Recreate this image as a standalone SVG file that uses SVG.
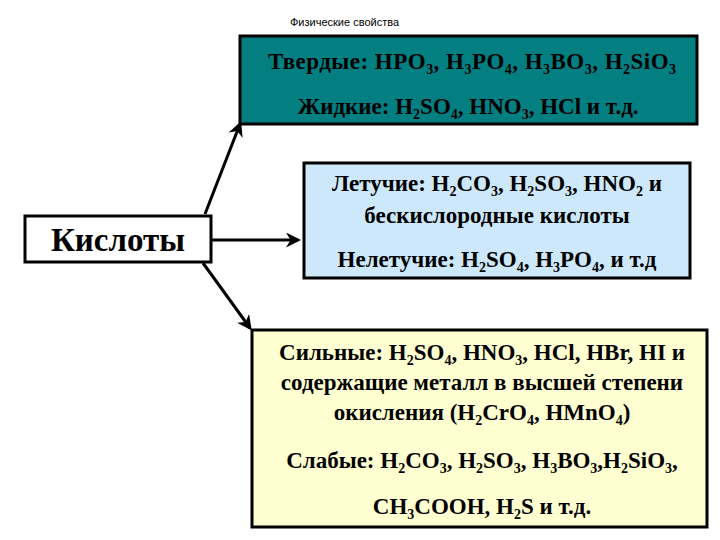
<svg xmlns="http://www.w3.org/2000/svg" width="720" height="540" viewBox="0 0 720 540">
<style>
.box{stroke:#000;stroke-width:3}
.t{font-family:"Liberation Serif",serif;font-weight:bold;font-size:23px;fill:#000;text-anchor:middle}
.s{font-size:14px}
.c{stroke:#000;stroke-width:3;fill:none;marker-end:url(#a)}
</style>
<defs><marker id="a" viewBox="0 0 10 10" refX="8" refY="5" markerWidth="5" markerHeight="5" orient="auto" markerUnits="strokeWidth"><path d="M0,0 L10,5 L0,10 L3,5 Z" fill="#000"/></marker></defs>
<rect width="720" height="540" fill="#fff"/>
<text x="290" y="26" font-family="Liberation Sans,sans-serif" font-size="11" fill="#000">Физические свойства</text>
<g id="connectors">
<path class="c" d="M205,214 L240,124"/>
<path class="c" d="M212,240 L298,240"/>
<path class="c" d="M203,263 L250,328"/>
</g>
<g id="acids">
<rect class="box" x="25" y="216" width="186" height="46" fill="#fff"/>
<text class="t" x="118" y="251" style="font-size:33px">Кислоты</text>
</g>
<g id="phys">
<rect class="box" x="240" y="36" width="457" height="88" fill="#037f82"/>
<text class="t" x="472" y="69" textLength="408">Твердые: HPO<tspan class="s" dy="5">3</tspan><tspan dy="-5">, H</tspan><tspan class="s" dy="5">3</tspan><tspan dy="-5">PO</tspan><tspan class="s" dy="5">4</tspan><tspan dy="-5">, H</tspan><tspan class="s" dy="5">3</tspan><tspan dy="-5">BO</tspan><tspan class="s" dy="5">3</tspan><tspan dy="-5">, H</tspan><tspan class="s" dy="5">2</tspan><tspan dy="-5">SiO</tspan><tspan class="s" dy="5">3</tspan></text>
<text class="t" x="468" y="114">Жидкие: H<tspan class="s" dy="5">2</tspan><tspan dy="-5">SO</tspan><tspan class="s" dy="5">4</tspan><tspan dy="-5">, HNO</tspan><tspan class="s" dy="5">3</tspan><tspan dy="-5">, HCl и т.д.</tspan></text>
</g>
<g id="volatile">
<rect class="box" x="304" y="163" width="386" height="115" fill="#cce8fa"/>
<text class="t" x="497" y="191">Летучие: H<tspan class="s" dy="5">2</tspan><tspan dy="-5">CO</tspan><tspan class="s" dy="5">3</tspan><tspan dy="-5">, H</tspan><tspan class="s" dy="5">2</tspan><tspan dy="-5">SO</tspan><tspan class="s" dy="5">3</tspan><tspan dy="-5">, HNO</tspan><tspan class="s" dy="5">2</tspan><tspan dy="-5"> и</tspan></text>
<text class="t" x="497" y="223">бескислородные кислоты</text>
<text class="t" x="497" y="267">Нелетучие: H<tspan class="s" dy="5">2</tspan><tspan dy="-5">SO</tspan><tspan class="s" dy="5">4</tspan><tspan dy="-5">, H</tspan><tspan class="s" dy="5">3</tspan><tspan dy="-5">PO</tspan><tspan class="s" dy="5">4</tspan><tspan dy="-5">,  и т.д</tspan></text>
</g>
<g id="strength">
<rect class="box" x="252" y="330" width="455" height="197" fill="#ffffd2"/>
<text class="t" x="482" y="360">Сильные: H<tspan class="s" dy="5">2</tspan><tspan dy="-5">SO</tspan><tspan class="s" dy="5">4</tspan><tspan dy="-5">, HNO</tspan><tspan class="s" dy="5">3</tspan><tspan dy="-5">, HCl, HBr, HI и</tspan></text>
<text class="t" x="482" y="390">содержащие металл в высшей степени</text>
<text class="t" x="482" y="420">окисления (H<tspan class="s" dy="5">2</tspan><tspan dy="-5">CrO</tspan><tspan class="s" dy="5">4</tspan><tspan dy="-5">, HMnO</tspan><tspan class="s" dy="5">4</tspan><tspan dy="-5">)</tspan></text>
<text class="t" x="482" y="468">Слабые: H<tspan class="s" dy="5">2</tspan><tspan dy="-5">CO</tspan><tspan class="s" dy="5">3</tspan><tspan dy="-5">, H</tspan><tspan class="s" dy="5">2</tspan><tspan dy="-5">SO</tspan><tspan class="s" dy="5">3</tspan><tspan dy="-5">, H</tspan><tspan class="s" dy="5">3</tspan><tspan dy="-5">BO</tspan><tspan class="s" dy="5">3</tspan><tspan dy="-5">,H</tspan><tspan class="s" dy="5">2</tspan><tspan dy="-5">SiO</tspan><tspan class="s" dy="5">3</tspan><tspan dy="-5">,</tspan></text>
<text class="t" x="482" y="514">CH<tspan class="s" dy="5">3</tspan><tspan dy="-5">COOH, H</tspan><tspan class="s" dy="5">2</tspan><tspan dy="-5">S и т.д.</tspan></text>
</g>
</svg>
